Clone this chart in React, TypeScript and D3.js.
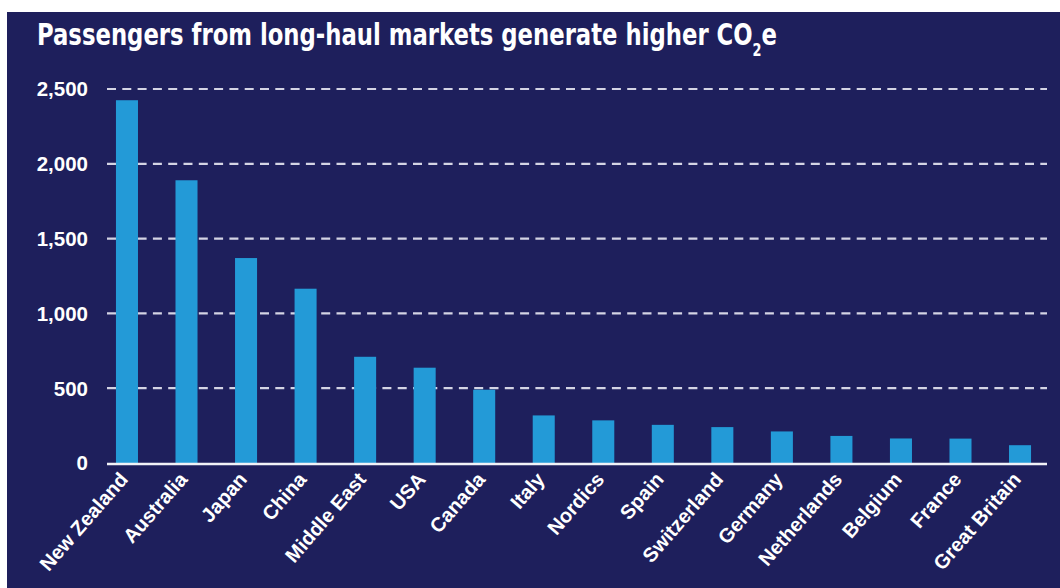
import React from "react";
import * as d3 from "d3";

const categories = [
  "New Zealand", "Australia", "Japan", "China", "Middle East", "USA", "Canada",
  "Italy", "Nordics", "Spain", "Switzerland", "Germany", "Netherlands",
  "Belgium", "France", "Great Britain",
];
const values = [2425, 1890, 1370, 1165, 710, 637, 490, 318, 285, 255, 240, 211, 181, 164, 163, 119];
const yTicks = [0, 500, 1000, 1500, 2000, 2500];

const W = 1060;
const H = 588;
const BG = "#1e1f5c";
const BAR = "#239ad7";

export default function App() {
  const x = d3
    .scaleBand<string>()
    .domain(categories)
    .range([97.2, 1049.8])
    .paddingInner(0.63)
    .paddingOuter(0.315);
  const y = d3.scaleLinear().domain([0, 2500]).range([463, 89]);
  const fmt = d3.format(",");
  const gridX0 = 107;
  const gridX1 = 1047;

  return (
    <svg
      width={W}
      height={H}
      style={{ position: "absolute", left: 0, top: 0 }}
    >
      <rect x={0} y={0} width={W} height={H} fill="#ffffff" />
      <rect x={7} y={12} width={W - 7} height={H - 12} fill={BG} />
      <text
        x={37}
        y={45}
        fill="#ffffff"
        fontFamily="'Liberation Sans Narrow', 'DejaVu Sans Condensed', 'Arial Narrow', sans-serif"
        fontWeight="bold"
        fontSize={30}
        textLength={740}
        lengthAdjust="spacingAndGlyphs"
      >
        Passengers from long-haul markets generate higher CO
        <tspan dy={11} fontSize={17}>2</tspan>
        <tspan dy={-11}>e</tspan>
      </text>
      {yTicks
        .filter((t) => t > 0)
        .map((t) => (
          <line
            key={"g" + t}
            x1={gridX0}
            x2={gridX1}
            y1={y(t)}
            y2={y(t)}
            stroke="#d4d4e4"
            strokeWidth={2.2}
            strokeDasharray="9 6.3"
          />
        ))}
      {yTicks.map((t) => (
        <text
          key={"t" + t}
          x={88}
          y={y(t)}
          dy="0.36em"
          textAnchor="end"
          fill="#ffffff"
          fontFamily="'Liberation Sans', Arial, sans-serif"
          fontWeight="bold"
          fontSize={20.5}
        >
          {fmt(t)}
        </text>
      ))}
      {categories.map((c, i) => (
        <rect
          key={"b" + c}
          x={x(c)!}
          y={y(values[i])}
          width={x.bandwidth()}
          height={y(0) - y(values[i])}
          fill={BAR}
        />
      ))}
      <line
        x1={gridX0}
        x2={gridX1}
        y1={y(0) + 1}
        y2={y(0) + 1}
        stroke="#f2f2f7"
        strokeWidth={2.4}
      />
      {categories.map((c) => {
        const cx = x(c)! + x.bandwidth() / 2 + 2;
        const cy = 480;
        return (
          <text
            key={"l" + c}
            transform={`translate(${cx},${cy}) rotate(-49)`}
            textAnchor="end"
            fill="#ffffff"
            fontFamily="'Liberation Sans', Arial, sans-serif"
            fontWeight="bold"
            fontSize={20}
          >
            {c}
          </text>
        );
      })}
    </svg>
  );
}
